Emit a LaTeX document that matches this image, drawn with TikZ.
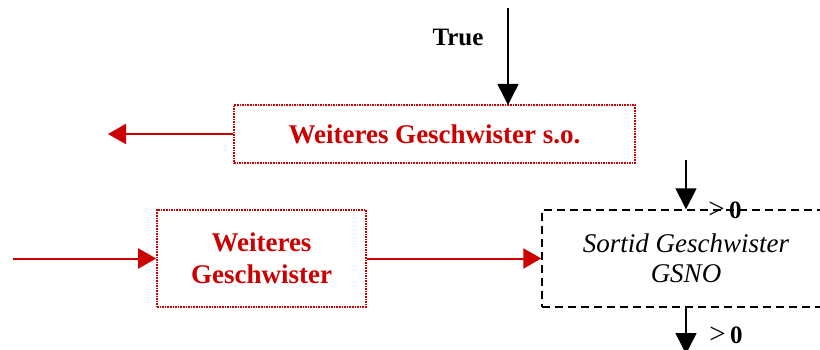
\documentclass[tikz,border=0pt]{standalone}
\usepackage{fontspec}
\setmainfont{Liberation Serif}
\usetikzlibrary{arrows.meta}
\definecolor{dred}{HTML}{CC0000}
\begin{document}
\begin{tikzpicture}[x=1pt,y=-1pt,
  redbox/.style={draw=dred,densely dotted,line width=1.6pt,text=dred,font=\fontsize{27}{32}\selectfont\bfseries,align=center,inner sep=0pt},
  dashbox/.style={draw=black,dash pattern=on 8pt off 5pt,line width=1.4pt,font=\fontsize{27}{30}\selectfont\itshape,align=center,inner sep=0pt},
  redarrow/.style={draw=dred,line width=2pt,-{Triangle[length=18pt,width=20pt]}},
  blkarrow/.style={draw=black,line width=1.5pt,-{Triangle[length=21pt,width=21pt]}},
  lbl/.style={font=\fontsize{25}{29}\selectfont\bfseries,inner sep=0pt}
]
\useasboundingbox (0,0) rectangle (820,350);
\clip (0,0) rectangle (820,350);
\node[redbox,minimum width=401pt,minimum height=58pt] (top) at (434.5,134) {Weiteres Geschwister s.o.};
\node[redbox,minimum width=209pt,minimum height=97pt] (low) at (261.5,258.5) {Weiteres\\Geschwister};
\node[dashbox,minimum width=288pt,minimum height=97pt] (sort) at (686,258.5) {Sortid Geschwister\\GSNO};
\coordinate (tin) at (508,8);
\coordinate (lout) at (108,134);
\coordinate (lin) at (13,258.5);
\coordinate (sin) at (686,160);
\coordinate (sout) at (686,354);
\draw[blkarrow] (tin) -- (508,105);
\node[lbl] (true) at (458,37) {True};
\draw[redarrow] (top.west) -- (lout);
\draw[redarrow] (lin) -- (low.west);
\draw[redarrow] (low.east) -- (sort.west);
\draw[blkarrow] (sin) -- (sort.north);
\draw[blkarrow] (sort.south) -- (sout);
\node[lbl] (gt1) at (725,210) {{\mdseries\fontsize{29}{29}\selectfont>}\,0};
\node[lbl] (gt2) at (726,335) {{\mdseries\fontsize{29}{29}\selectfont>}\,0};
\end{tikzpicture}
\end{document}
